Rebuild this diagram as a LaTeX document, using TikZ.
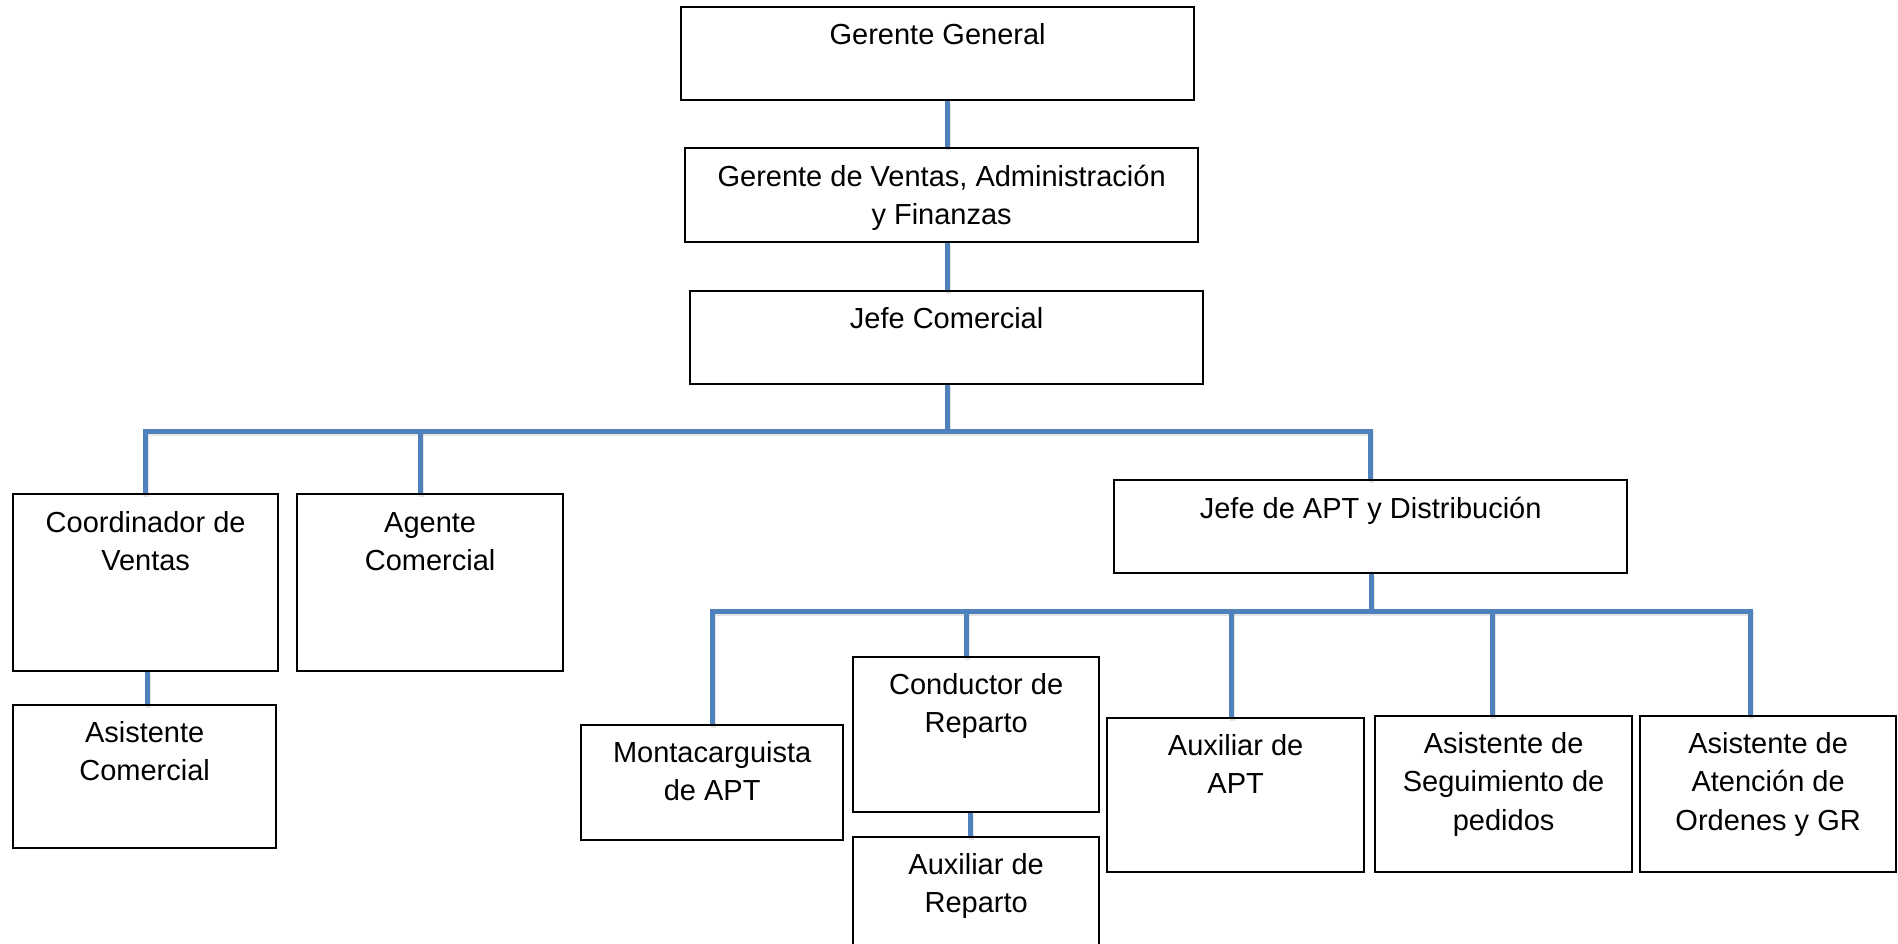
\documentclass[tikz,border=0pt]{standalone}
\usepackage{fontspec}
\setmainfont{Liberation Sans}
\definecolor{connblue}{RGB}{79,129,189}
\begin{document}
\begin{tikzpicture}[x=1pt,y=-1pt,
  box/.style={draw=black, line width=1.3pt, inner sep=0pt, anchor=north west, fill=white},
  lbl/.style={anchor=base, align=center, inner sep=0pt, font=\fontsize{29}{38.5}\selectfont},
  conn/.style={draw=connblue, line width=5pt,
    preaction={draw=gray!45, opacity=0.45, line width=5pt, transform canvas={shift={(1pt,-2.5pt)}}}}]
\clip (0,0) rectangle (1898,944);
\fill[white] (0,0) rectangle (1898,944);

% coordinates for the horizontal bars
\coordinate (b1) at (0,431);
\coordinate (b2) at (0,611);

% boxes
\path
  (681,7)    node[box, minimum width=512pt, minimum height=92pt]  (gg) {}
  (685,148)  node[box, minimum width=512pt, minimum height=93pt]  (gv) {}
  (690,291)  node[box, minimum width=512pt, minimum height=92pt]  (jc) {}
  (13,494)   node[box, minimum width=264pt, minimum height=176pt] (cv) {}
  (297,494)  node[box, minimum width=265pt, minimum height=176pt] (ag) {}
  (13,705)   node[box, minimum width=262pt, minimum height=142pt] (ac) {}
  (1114,480) node[box, minimum width=512pt, minimum height=92pt]  (ja) {}
  (581,725)  node[box, minimum width=261pt, minimum height=114pt] (mo) {}
  (853,657)  node[box, minimum width=245pt, minimum height=154pt] (co) {}
  (853,837)  node[box, minimum width=245pt, minimum height=140pt] (ar) {}
  (1107,718) node[box, minimum width=256pt, minimum height=153pt] (aa) {}
  (1375,716) node[box, minimum width=256pt, minimum height=155pt] (se) {}
  (1640,716) node[box, minimum width=255pt, minimum height=155pt] (at) {};

% connectors
\draw[conn] ([xshift=10pt]gg.south) -- ([xshift=10pt]gg.south |- gv.north);
\draw[conn] ([xshift=6pt]gv.south) -- ([xshift=6pt]gv.south |- jc.north);
\draw[conn] ([xshift=1pt]jc.south) -- ([xshift=1pt]jc.south |- b1);
\draw[conn] (cv.north) -- (cv.north |- b1) -- (ja.north |- b1) -- (ja.north);
\draw[conn] ([xshift=-9.5pt]ag.north |- b1) -- ([xshift=-9.5pt]ag.north);
\draw[conn] ([xshift=2pt]cv.south) -- ([xshift=2pt]cv.south |- ac.north);
\draw[conn] ([xshift=1pt]ja.south) -- ([xshift=1pt]ja.south |- b2);
\draw[conn] (mo.north) -- (mo.north |- b2) -- ([xshift=-17.5pt]at.north |- b2) -- ([xshift=-17.5pt]at.north);
\draw[conn] ([xshift=-9.5pt]co.north |- b2) -- ([xshift=-9.5pt]co.north);
\draw[conn] ([xshift=-4pt]aa.north |- b2) -- ([xshift=-4pt]aa.north);
\draw[conn] ([xshift=-11pt]se.north |- b2) -- ([xshift=-11pt]se.north);
\draw[conn] ([xshift=-5.5pt]co.south) -- ([xshift=-5.5pt]co.south |- ar.north);

% box outlines on top of connector shadows
\foreach \n in {gg,gv,jc,cv,ag,ac,ja,mo,co,ar,aa,se,at}{
  \draw[black, line width=1.3pt] (\n.north west) rectangle (\n.south east);
}

% labels (base anchor = baseline of the last line)
\node[lbl] (ggt) at ([yshift=-38pt]gg.north) {Gerente General};
\node[lbl] (gvt) at ([yshift=-77pt]gv.north) {Gerente de Ventas, Administración\\y Finanzas};
\node[lbl] (jct) at ([yshift=-37.5pt]jc.north) {Jefe Comercial};
\node[lbl] (cvt) at ([yshift=-76.5pt]cv.north) {Coordinador de\\Ventas};
\node[lbl] (agt) at ([yshift=-76.5pt]ag.north) {Agente\\Comercial};
\node[lbl] (act) at ([yshift=-75.5pt]ac.north) {Asistente\\Comercial};
\node[lbl] (jat) at ([yshift=-38pt]ja.north) {Jefe de APT y Distribución};
\node[lbl] (mot) at ([yshift=-75.5pt]mo.north) {Montacarguista\\de APT};
\node[lbl] (cot) at ([yshift=-75.5pt]co.north) {Conductor de\\Reparto};
\node[lbl] (art) at ([yshift=-75.5pt]ar.north) {Auxiliar de\\Reparto};
\node[lbl] (aat) at ([yshift=-75.5pt]aa.north) {Auxiliar de\\APT};
\node[lbl] (set) at ([yshift=-114pt]se.north) {Asistente de\\Seguimiento de\\pedidos};
\node[lbl] (att) at ([yshift=-114pt]at.north) {Asistente de\\Atención de\\Ordenes y GR};
\end{tikzpicture}
\end{document}
